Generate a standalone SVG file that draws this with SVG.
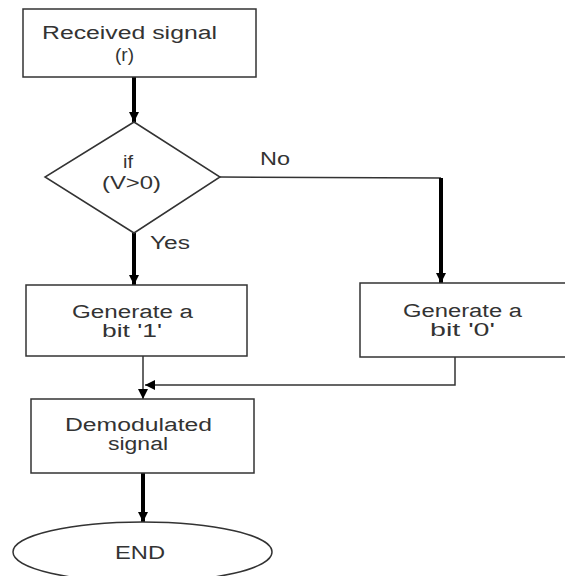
<svg xmlns="http://www.w3.org/2000/svg" width="565" height="576" viewBox="0 0 565 576">
<style>
.box{fill:#fff;stroke:#333;stroke-width:1.5}
.t{font-family:"Liberation Sans",Arial,sans-serif;font-size:18px;fill:#333}
.thin{fill:none;stroke:#333;stroke-width:1.5}
.thick{fill:none;stroke:#000;stroke-width:4}
</style>
<defs>
<marker id="ah" markerUnits="userSpaceOnUse" markerWidth="12" markerHeight="12" viewBox="0 0 12 12" refX="10" refY="6" orient="auto">
<path d="M0,1 L10,6 L0,11 Z" fill="#000"/>
</marker>
</defs>
<rect width="565" height="576" fill="#fff"/>
<g id="connectors">
<line class="thick" x1="134" y1="77" x2="134" y2="122" marker-end="url(#ah)"/>
<line class="thick" x1="134" y1="233" x2="134" y2="285" marker-end="url(#ah)"/>
<polyline class="thin" points="220,177 441,178"/>
<line class="thick" x1="441" y1="178" x2="441" y2="283" marker-end="url(#ah)"/>
<line class="thin" x1="143" y1="356" x2="143" y2="399" marker-end="url(#ah)"/>
<polyline class="thin" points="455,357 455,385 145,385" marker-end="url(#ah)"/>
<line class="thick" x1="143" y1="473" x2="143" y2="522" marker-end="url(#ah)"/>
</g>
<g id="received">
<rect class="box" x="23" y="9" width="233" height="68"/>
<text class="t" x="42" y="39" textLength="175" lengthAdjust="spacingAndGlyphs">Received signal</text>
<text class="t" x="115" y="61" textLength="19" lengthAdjust="spacingAndGlyphs">(r)</text>
</g>
<g id="decision">
<polygon class="box" points="134,122 220,177 134,233 45,177"/>
<text class="t" x="123" y="168" textLength="10" lengthAdjust="spacingAndGlyphs">if</text>
<text class="t" x="102" y="189" textLength="59" lengthAdjust="spacingAndGlyphs">(V&gt;0)</text>
</g>
<g id="labels">
<text class="t" x="260" y="165" textLength="30" lengthAdjust="spacingAndGlyphs">No</text>
<text class="t" x="150" y="249" textLength="40" lengthAdjust="spacingAndGlyphs">Yes</text>
</g>
<g id="gen1">
<rect class="box" x="26" y="285" width="221" height="71"/>
<text class="t" x="72" y="318" textLength="121" lengthAdjust="spacingAndGlyphs">Generate a</text>
<text class="t" x="102" y="337" textLength="60" lengthAdjust="spacingAndGlyphs">bit '1'</text>
</g>
<g id="gen0">
<rect class="box" x="360" y="283" width="215" height="74"/>
<text class="t" x="403" y="317" textLength="119" lengthAdjust="spacingAndGlyphs">Generate a</text>
<text class="t" x="430" y="336" textLength="65" lengthAdjust="spacingAndGlyphs">bit '0'</text>
</g>
<g id="demod">
<rect class="box" x="31" y="399" width="223" height="74"/>
<text class="t" x="65" y="431" textLength="147" lengthAdjust="spacingAndGlyphs">Demodulated</text>
<text class="t" x="108" y="450" textLength="60" lengthAdjust="spacingAndGlyphs">signal</text>
</g>
<g id="end">
<ellipse class="box" cx="142.5" cy="552" rx="129.5" ry="30"/>
<text class="t" x="115" y="559" textLength="50" lengthAdjust="spacingAndGlyphs">END</text>
</g>
</svg>
